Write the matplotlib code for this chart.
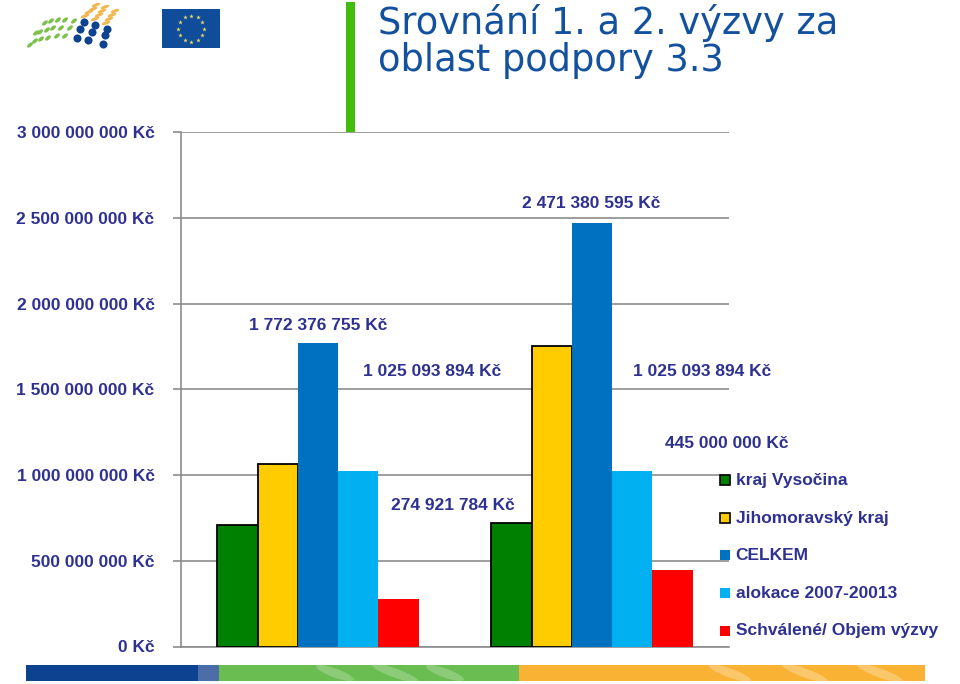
import matplotlib
matplotlib.use('Agg')
from matplotlib import pyplot as plt
from matplotlib.patches import Ellipse, Rectangle
import numpy as np

categories = ['1. výzva', '2. výzva']
series_names = ['kraj Vysočina', 'Jihomoravský kraj', 'CELKEM', 'alokace 2007-20013', 'Schválené/ Objem výzvy']
vysocina = [708000000, 720000000]
jihomoravsky = [1064000000, 1752000000]
celkem = [1772376755, 2471380595]
alokace = [1025093894, 1025093894]
schvalene = [274921784, 445000000]
series_values = [vysocina, jihomoravsky, celkem, alokace, schvalene]
series_colors = ['#008000', '#FFCC00', '#0070C0', '#00B0F0', '#FF0000']
series_edges = ['black', 'black', 'none', 'none', 'none']
y_ticks = [0, 500000000, 1000000000, 1500000000, 2000000000, 2500000000, 3000000000]
y_labels = ['0 Kč', '500 000 000 Kč', '1 000 000 000 Kč', '1 500 000 000 Kč',
            '2 000 000 000 Kč', '2 500 000 000 Kč', '3 000 000 000 Kč']
value_labels = ['1 772 376 755 Kč', '1 025 093 894 Kč', '274 921 784 Kč',
                '2 471 380 595 Kč', '1 025 093 894 Kč', '445 000 000 Kč']
label_x = [318, 432, 453, 591, 702, 727]
label_y = [325, 372, 506, 204, 372, 443]

W, H = 960, 684
NAVY = '#2E3192'
FONT = 'Liberation Sans'

fig = plt.figure(figsize=(W / 100, H / 100), dpi=100, facecolor='white')

# chart axes, placed in pixels
left, right, top, bottom = 181, 729, 132, 646.5
ax = fig.add_axes([left / W, 1 - bottom / H, (right - left) / W, (bottom - top) / H])
ax.set_xlim(0, 2)
ax.set_ylim(0, 3000000000)

bar_w = 40.3 / 274
pos = np.arange(len(categories)) + 0.5
for i, vals in enumerate(series_values):
    ax.bar(pos + (i - 2) * bar_w, vals, bar_w, color=series_colors[i], edgecolor=series_edges[i],
           linewidth=1.3, label=series_names[i], zorder=3)

ax.set_xticks([])
ax.set_yticks(y_ticks)
ax.set_yticklabels(y_labels, fontfamily=FONT, fontweight='bold', fontsize=12.5, color=NAVY)
ax.tick_params(axis='y', length=6, width=1.2, color='#8c8c8c', pad=13)
ax.grid(axis='y', color='#8c8c8c', linewidth=1.2, zorder=0)
for s in ['top', 'right']:
    ax.spines[s].set_visible(False)
for s in ['left', 'bottom']:
    ax.spines[s].set_color('#8c8c8c')
    ax.spines[s].set_linewidth(1.2)
ax.patch.set_alpha(0)

# overlay in image pixels for the slide decoration and loose labels
ov = fig.add_axes([0, 0, 1, 1], zorder=5)
ov.set_xlim(0, W)
ov.set_ylim(H, 0)
ov.axis('off')

ov.add_patch(Rectangle((346, 2), 9, 130, color='#43BC0C', lw=0))
ov.text(378, 34, 'Srovnání 1. a 2. výzvy za', fontfamily='DejaVu Sans', fontsize=26.5, color='#13519F')
ov.text(378, 71, 'oblast podpory 3.3', fontfamily='DejaVu Sans', fontsize=26.5, color='#13519F')

for t, x, y in zip(value_labels, label_x, label_y):
    ov.text(x, y, t, ha='center', va='center', fontfamily=FONT, fontweight='bold', fontsize=12.5, color=NAVY)

# legend
handles, names = ax.get_legend_handles_labels()
leg_y = [480, 518, 555, 593, 631]
for h, t, y, c, e in zip(handles, names, leg_y, series_colors, series_edges):
    ov.add_patch(Rectangle((720, y - 5), 10, 10, facecolor=c, edgecolor=e, lw=1.2))
    ov.text(735.5, y, t, va='center', fontfamily=FONT, fontweight='bold', fontsize=12.5, color=NAVY)

# footer band
ov.add_patch(Rectangle((26, 665), 193, 16, color='#0D4290', lw=0))
ov.add_patch(Rectangle((198, 665), 21, 16, color='#4D6DA8', lw=0))
ov.add_patch(Rectangle((219, 665), 300, 16, color='#6ABD50', lw=0))
ov.add_patch(Rectangle((519, 665), 406, 16, color='#F9B233', lw=0))
clip = Rectangle((26, 665), 899, 16, transform=ov.transData)
for x, w, c in [(335, 40, '#8CCB78'), (395, 50, '#8CCB78'), (445, 40, '#8CCB78'),
                (730, 45, '#FBC76B'), (805, 50, '#FBC76B'), (880, 50, '#FBC76B')]:
    e = Ellipse((x, 673), w, 9, angle=20, color=c, lw=0)
    ov.add_patch(e)
    e.set_clip_path(clip)

# logo
blue_x = [84, 95, 107, 80, 92, 105, 77, 88, 103]
blue_y = [22, 25, 29, 29, 32, 35, 38, 40, 44]
ov.scatter(blue_x, blue_y, s=34, c='#0D4290', linewidths=0, marker='o')
green_x = [74, 65, 58, 51, 45, 70, 61, 53, 47, 40, 36, 65, 57, 48, 41, 35, 30]
green_y = [21, 20, 20, 21, 23, 28, 28, 28, 30, 32, 33, 36, 36, 38, 39, 41, 45]
for x, y in zip(green_x, green_y):
    ov.add_patch(Ellipse((x, y), 7, 3.6, angle=-40, color='#7CBF4B', lw=0))
orange_x = [96, 93, 89, 85, 105, 102, 99, 95, 115, 112, 109, 106]
orange_y = [5, 9, 12, 16, 7, 11, 15, 19, 11, 15, 19, 23]
for x, y in zip(orange_x, orange_y):
    ov.add_patch(Ellipse((x, y), 9, 3.2, angle=-20, color='#F3B74F', lw=0))

# EU flag
ov.add_patch(Rectangle((162, 9), 58, 39, color='#0F4C9A', lw=0))
ang = np.arange(12) * np.pi / 6
ov.scatter(191 + 13 * np.cos(ang), 28.5 + 13 * np.sin(ang), s=12, marker='*', c='#E9D86A', linewidths=0)

fig.savefig('out.png', dpi=100)
